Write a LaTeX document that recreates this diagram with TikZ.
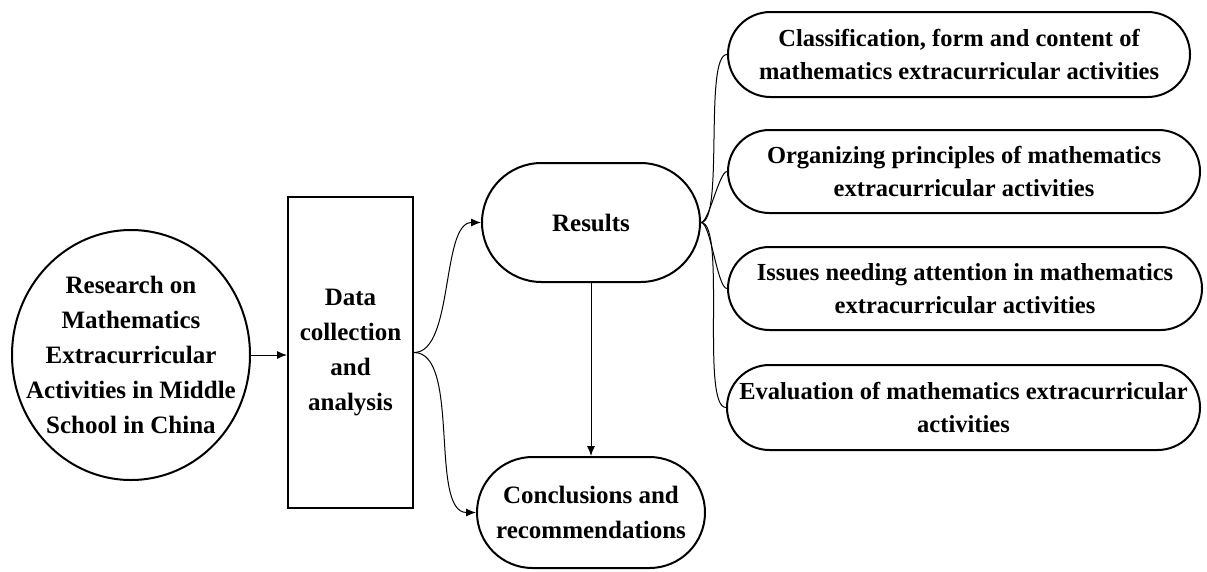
\documentclass[tikz,border=0pt]{standalone}
\usepackage{fontspec}
\setmainfont{Liberation Serif}
\usetikzlibrary{shapes.misc,shapes.geometric,arrows.meta}
\begin{document}
\begin{tikzpicture}[x=1pt,y=-1pt,
  txt/.style={align=center,inner sep=0pt,font=\bfseries\fontsize{25}{35}\selectfont},
  base/.style={txt,draw,line width=2pt},
  pill/.style={base,rounded rectangle},
  rbox/.style={pill,font=\bfseries\fontsize{24.5}{33}\selectfont},
  conn/.style={line width=1pt},
  arr/.style={conn,-{Latex[length=10pt,width=8pt]}}
]
\useasboundingbox (0,0) rectangle (1207,571);
\node[draw,line width=2pt,ellipse,minimum width=238pt,minimum height=250pt,inner sep=0pt] (circ) at (131,355) {};
\node[txt] (circtext) at (131,355)
  {Research on\\Mathematics\\Extracurricular\\Activities in Middle\\School in China};
\node[base,rectangle,minimum width=125pt,minimum height=311pt] (data) at (350.5,352.5)
  {Data\\collection\\and\\analysis};
\node[pill,minimum width=218pt,minimum height=119pt] (res) at (591,222.5) {Results};
\node[pill,minimum width=228pt,minimum height=111pt] (conc) at (591,512.5)
  {Conclusions and\\recommendations};
\node[rbox,minimum width=462pt,minimum height=85pt] (b1) at (959,54.5)
  {Classification, form and content of\\mathematics extracurricular activities};
\node[rbox,minimum width=472pt,minimum height=83pt] (b2) at (964,171.5)
  {Organizing principles of mathematics\\extracurricular activities};
\node[rbox,minimum width=474pt,minimum height=83pt] (b3) at (965,288.5)
  {Issues needing attention in mathematics\\extracurricular activities};
\node[rbox,minimum width=473pt,minimum height=85pt] (b4) at (963.5,407.5)
  {Evaluation of mathematics extracurricular\\activities};
\draw[arr] (circ.east) -- (circ.east -| data.west);
\draw[arr] (data.east) to[out=0,in=180,looseness=0.7] (res.west);
\draw[arr] (data.east) to[out=0,in=180,looseness=0.7] (conc.west);
\draw[arr] (res.south) -- (conc.north);
\foreach \b in {b1,b2,b3,b4}
  \draw[conn] (res.east) to[out=0,in=180,looseness=0.35] (\b.west);
\end{tikzpicture}
\end{document}
